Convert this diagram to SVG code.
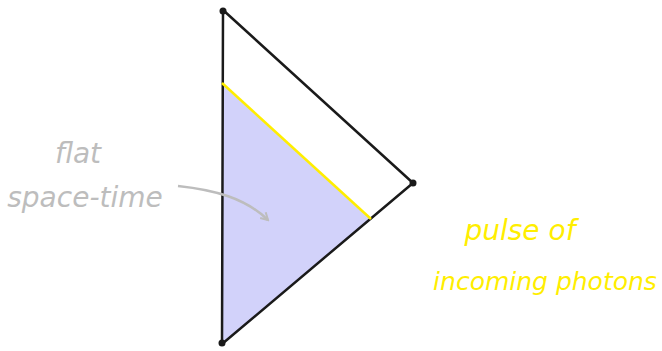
<svg xmlns="http://www.w3.org/2000/svg" width="662" height="351" viewBox="0 0 662 351">
<style>
.edge{stroke:#1a1a1a;stroke-width:2.5;fill:none;stroke-linecap:round}
.dot{fill:#1a1a1a}
.gray{font-family:"DejaVu Sans",sans-serif;font-style:italic;fill:#bdbdbd;font-size:28px}
.yel{font-family:"DejaVu Sans",sans-serif;font-style:italic;fill:#ffee00;font-size:28px}
</style>
<defs>
<marker id="ah" markerWidth="10" markerHeight="10" refX="8" refY="5" orient="auto" markerUnits="userSpaceOnUse">
<path d="M1,1 L8,5 L1,9" fill="none" stroke="#bdbdbd" stroke-width="2"/>
</marker>
</defs>
<g id="region">
<polygon points="222,83 371,219 222,344" fill="#d2d2fa"/>
</g>
<g id="connectors">
<line class="edge" x1="223" y1="10" x2="222" y2="344"/>
<line class="edge" x1="223" y1="10" x2="413" y2="183"/>
<line class="edge" x1="413" y1="183" x2="222" y2="344"/>
<line x1="222" y1="83" x2="371" y2="219" stroke="#ffee00" stroke-width="2.5"/>
<path d="M178,186 C215,190 245,198 268,220" fill="none" stroke="#bdbdbd" stroke-width="2.5" marker-end="url(#ah)"/>
</g>
<g id="vertices">
<circle class="dot" cx="223" cy="11" r="3.5"/>
<circle class="dot" cx="413" cy="183" r="3.5"/>
<circle class="dot" cx="222" cy="343" r="3.5"/>
</g>
<g id="label-flat">
<text class="gray" x="78" y="163" text-anchor="middle">flat</text>
<text class="gray" x="85" y="207" text-anchor="middle">space-time</text>
</g>
<g id="label-pulse">
<text class="yel" x="520" y="240" text-anchor="middle">pulse of</text>
<text class="yel" x="545" y="290" text-anchor="middle" font-size="25" style="font-size:25px">incoming photons</text>
</g>
</svg>
